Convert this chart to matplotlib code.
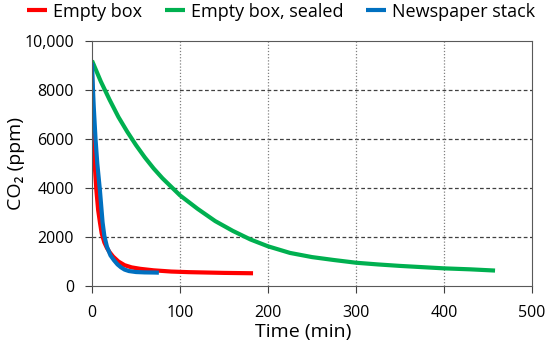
import matplotlib
matplotlib.use("Agg")
import matplotlib.pyplot as plt

plt.rcParams['font.family'] = ['Open Sans', 'DejaVu Sans']

# Empty box (red)
t_empty = [0, 1, 2, 3, 5, 7, 9, 11, 14, 17, 20, 24, 30, 37, 45, 55, 70, 90, 110, 130, 150, 183]
co2_empty = [8600, 7000, 5900, 5000, 3900, 3100, 2600, 2150, 1780, 1550, 1380, 1200, 1000, 850,
             760, 700, 640, 590, 565, 550, 535, 520]

# Empty box, sealed (green)
t_sealed = [0, 10, 20, 30, 40, 50, 60, 70, 80, 90, 100, 120, 140, 160, 180, 200, 225, 250,
            275, 300, 325, 350, 375, 400, 430, 458]
co2_sealed = [9200, 8350, 7600, 6900, 6300, 5750, 5250, 4800, 4400, 4050, 3700, 3150, 2650,
              2250, 1900, 1620, 1350, 1180, 1060, 950, 880, 820, 770, 720, 680, 630]

# Newspaper stack (blue)
t_paper = [0, 1, 2, 4, 6, 9, 12, 14, 17, 21, 25, 29, 33, 37, 42, 50, 60, 70, 76]
co2_paper = [9100, 8100, 7300, 6000, 5000, 3900, 2600, 2050, 1600, 1250, 1050, 880, 760, 670,
             610, 570, 555, 550, 545]

yticks = [0, 2000, 4000, 6000, 8000, 10000]
ytick_labels = ['0', '2000', '4000', '6000', '8000', '10,000']
xticks = [0, 100, 200, 300, 400, 500]

fig = plt.figure(figsize=(5.5, 3.51), dpi=100)
ax = fig.add_axes([92 / 550, 1 - 286 / 351, 440 / 550, 245 / 351])

ax.plot(t_empty, co2_empty, color='#FF0000', lw=3, label='Empty box', solid_capstyle='butt')
ax.plot(t_sealed, co2_sealed, color='#00B050', lw=3, label='Empty box, sealed', solid_capstyle='butt')
ax.plot(t_paper, co2_paper, color='#0070C0', lw=3, label='Newspaper stack', solid_capstyle='butt')

ax.set_xlim(0, 500)
ax.set_ylim(0, 10000)
ax.set_xticks(xticks)
ax.set_yticks(yticks)
ax.set_yticklabels(ytick_labels)
ax.tick_params(labelsize=11.5, length=5, width=0.8, color='#404040')
ax.tick_params(axis='x', pad=9)
ax.tick_params(axis='y', pad=8)

for y in yticks[1:-1]:
    ax.axhline(y, color='#404040', lw=0.9, ls=(0, (3, 2)), zorder=0)
for x in xticks[1:-1]:
    ax.axvline(x, color='#808080', lw=0.9, ls=(0, (1, 1.5)), zorder=0)

for s in ax.spines.values():
    s.set_color('#595959')
    s.set_linewidth(0.8)

ax.set_xlabel('Time (min)', fontsize=14)
ax.set_ylabel('CO₂ (ppm)', fontsize=14)
ax.xaxis.set_label_coords(0.48, -0.15)
ax.yaxis.set_label_coords(-0.152, 0.5)

ax.legend(loc='center', bbox_to_anchor=(0.43, 1.12), ncol=3, frameon=False, fontsize=13,
          handlelength=1.1, handletextpad=0.3, columnspacing=1.3, borderaxespad=0)

fig.savefig('out.png', dpi=100)
